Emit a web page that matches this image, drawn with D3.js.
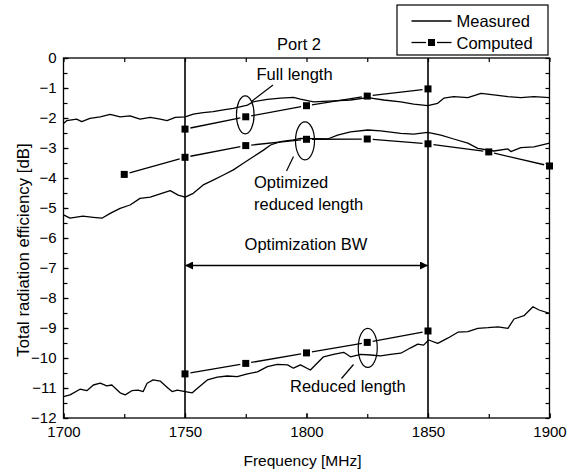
<!DOCTYPE html>
<html>
<head>
<meta charset="utf-8">
<script src="https://cdn.jsdelivr.net/npm/d3@7"></script>
<style>
  html, body { margin: 0; padding: 0; background: #fff; }
  svg { display: block; font-family: "Liberation Sans", Arial, sans-serif; }
</style>
</head>
<body>
<svg id="chart" width="574" height="472"></svg>
<script>
// ---------------- DATA ----------------
const xTicks = [1700, 1750, 1800, 1850, 1900];
const yTicks = [0, -1, -2, -3, -4, -5, -6, -7, -8, -9, -10, -11, -12];
const bandEdges = [1750, 1850];

// Measured curves [frequency MHz, efficiency dB]
const fullMeasured = [
  [1700,-2.18],[1701.3,-2.09],[1705.4,-2.04],[1707.5,-2.12],[1710.9,-2.01],[1715.1,-1.96],
  [1719.2,-1.88],[1723.3,-1.96],[1727.4,-1.93],[1731.5,-2.04],[1735.7,-1.98],[1739.8,-2.04],
  [1742.6,-2.09],[1746,-1.98],[1750.1,-1.96],[1753.4,-1.87],[1757.5,-1.82],[1761.6,-1.79],
  [1765.8,-1.73],[1769.9,-1.68],[1775.7,-1.57],[1778.1,-1.46],[1783.9,-1.38],[1789.3,-1.34],
  [1794.6,-1.31],[1797.5,-1.37],[1802.9,-1.46],[1811.1,-1.43],[1818.1,-1.40],[1825.2,-1.32],
  [1831.8,-1.40],[1838.8,-1.46],[1844.1,-1.54],[1849.9,-1.59],[1854.0,-1.51],[1856.5,-1.34],
  [1860.6,-1.29],[1866.4,-1.32],[1871.8,-1.18],[1877.1,-1.23],[1882.9,-1.29],[1888.2,-1.32],
  [1893.6,-1.29],[1900,-1.32]
];
const optMeasured = [
  [1700,-5.23],[1702.7,-5.34],[1708.0,-5.27],[1712.2,-5.31],[1715.8,-5.34],[1719.2,-5.18],
  [1723.3,-5.01],[1727.4,-4.90],[1731.5,-4.68],[1735.7,-4.64],[1739.8,-4.53],[1743.9,-4.42],
  [1747.2,-4.57],[1750.1,-4.64],[1753.4,-4.51],[1757.5,-4.23],[1761.6,-4.07],[1765.8,-3.90],
  [1769.9,-3.73],[1774.0,-3.51],[1778.1,-3.29],[1782.3,-3.07],[1785.2,-2.90],[1789.3,-2.79],
  [1794.6,-2.73],[1797.5,-2.68],[1808.7,-2.70],[1812.8,-2.57],[1818.1,-2.46],[1825.2,-2.40],
  [1830.5,-2.43],[1838.8,-2.51],[1844.1,-2.54],[1849.9,-2.48],[1855.3,-2.57],[1860.6,-2.70],
  [1866.4,-2.84],[1870.5,-3.01],[1877.1,-3.10],[1882.9,-3.03],[1884.1,-3.12],[1888.2,-2.99],
  [1893.6,-2.96],[1900,-2.84]
];
const redMeasured = [
  [1700,-11.29],[1702.7,-11.23],[1706.8,-11.04],[1709.6,-11.09],[1712.3,-10.90],[1715.1,-10.84],
  [1717.8,-10.93],[1719.9,-10.90],[1723.3,-11.16],[1725.4,-11.23],[1728.1,-11.09],[1730.7,-11.07],
  [1732.8,-11.12],[1734.4,-10.84],[1736.9,-10.73],[1739.8,-10.77],[1742.7,-10.98],[1744.7,-11.12],
  [1746.8,-11.07],[1750.1,-11.12],[1753.0,-11.16],[1755.5,-10.98],[1759.2,-10.73],[1763.3,-10.64],
  [1767.4,-10.60],[1771.5,-10.62],[1775.7,-10.53],[1779.8,-10.46],[1783.9,-10.29],[1788.0,-10.21],
  [1792.2,-10.23],[1794.6,-10.34],[1797.5,-10.23],[1801.6,-10.40],[1807.0,-9.96],[1811.1,-9.88],
  [1815.3,-9.81],[1818.1,-9.96],[1822.3,-9.88],[1826.4,-9.90],[1830.5,-9.93],[1834.6,-9.88],
  [1838.8,-9.84],[1842.9,-9.66],[1845.8,-9.54],[1848.2,-9.57],[1850.3,-9.40],[1854.0,-9.51],
  [1858.1,-9.34],[1862.3,-9.14],[1866.4,-9.12],[1870.5,-9.01],[1874.6,-8.99],[1878.8,-8.96],
  [1882.9,-9.01],[1885.4,-8.70],[1889.5,-8.59],[1893.2,-8.29],[1895.7,-8.40],[1900,-8.51]
];

// Computed curves
const fullComputed = [[1750,-2.37],[1775,-1.96],[1800,-1.59],[1825,-1.27],[1850,-1.03]];
const optComputed  = [[1725,-3.88],[1750,-3.31],[1775,-2.92],[1800,-2.71],[1825,-2.70],[1850,-2.86],[1875,-3.13],[1900,-3.60]];
const redComputed  = [[1750,-10.53],[1775,-10.18],[1800,-9.83],[1825,-9.48],[1850,-9.10]];

// ---------------- CHART ----------------
const svg = d3.select("#chart");
const x = d3.scaleLinear().domain([1700, 1900]).range([63.5, 549.5]);
const y = d3.scaleLinear().domain([-12, 0]).range([418, 58]);
const FS_TICK = 15, FS_ANN = 16.5;

const minorX = d3.range(1700, 1901, 25);
const minorY = d3.range(-12, 0.01, 0.5);

function styleAxis(g) {
  g.select(".domain").remove();
  g.selectAll("line").attr("stroke", "#000").attr("stroke-width", 1.2);
  g.selectAll("text").attr("fill", "#000").style("font-size", FS_TICK + "px")
    .style("font-family", "Liberation Sans, Arial, sans-serif");
}

// left axis
svg.append("g").attr("transform", "translate(63.5,0)")
  .call(d3.axisLeft(y).tickValues(yTicks).tickSize(-5).tickPadding(7).tickFormat(d3.format("d")))
  .call(styleAxis);
svg.append("g").attr("transform", "translate(63.5,0)")
  .call(d3.axisLeft(y).tickValues(minorY).tickSize(-4).tickFormat(""))
  .call(styleAxis);
// right axis
svg.append("g").attr("transform", "translate(549.5,0)")
  .call(d3.axisRight(y).tickValues(minorY).tickSize(-4).tickFormat(""))
  .call(styleAxis);
// bottom axis
svg.append("g").attr("transform", "translate(0,418)")
  .call(d3.axisBottom(x).tickValues(xTicks).tickSize(-5).tickPadding(8).tickFormat(d3.format("d")))
  .call(styleAxis);
svg.append("g").attr("transform", "translate(0,418)")
  .call(d3.axisBottom(x).tickValues(minorX).tickSize(-4).tickFormat(""))
  .call(styleAxis);
// top axis
svg.append("g").attr("transform", "translate(0,58)")
  .call(d3.axisTop(x).tickValues(minorX).tickSize(-4).tickFormat(""))
  .call(styleAxis);

// frame
svg.append("rect").attr("x", 63.5).attr("y", 58).attr("width", 486).attr("height", 360)
  .attr("fill", "none").attr("stroke", "#000").attr("stroke-width", 1.3);

// band edge vertical lines
svg.selectAll(".band").data(bandEdges).enter().append("line")
  .attr("x1", d => x(d)).attr("x2", d => x(d)).attr("y1", y(0)).attr("y2", y(-12))
  .attr("stroke", "#000").attr("stroke-width", 1.6);

// measured lines
const line = d3.line().x(d => x(d[0])).y(d => y(d[1]));
[fullMeasured, optMeasured, redMeasured].forEach(s => {
  svg.append("path").datum(s).attr("d", line).attr("fill", "none")
    .attr("stroke", "#000").attr("stroke-width", 1.3).attr("stroke-linejoin", "round");
});

// computed lines with gaps near markers
function drawComputed(s) {
  const gap = 5.5;
  for (let i = 0; i < s.length - 1; i++) {
    const x1 = x(s[i][0]), y1 = y(s[i][1]), x2 = x(s[i+1][0]), y2 = y(s[i+1][1]);
    const L = Math.hypot(x2 - x1, y2 - y1), ux = (x2 - x1) / L, uy = (y2 - y1) / L;
    svg.append("line")
      .attr("x1", x1 + ux * gap).attr("y1", y1 + uy * gap)
      .attr("x2", x2 - ux * gap).attr("y2", y2 - uy * gap)
      .attr("stroke", "#000").attr("stroke-width", 1.3);
  }
  svg.append("g").selectAll("rect").data(s).enter().append("rect")
    .attr("x", d => x(d[0]) - 3.5).attr("y", d => y(d[1]) - 3.5)
    .attr("width", 7).attr("height", 7).attr("fill", "#000");
}
[fullComputed, optComputed, redComputed].forEach(drawComputed);

// ---------------- ANNOTATIONS ----------------
const ann = svg.append("g").style("font-size", FS_ANN + "px").attr("fill", "#000");

ann.append("text").attr("x", 299).attr("y", 50).attr("text-anchor", "middle").text("Port 2");

// Full length
ann.append("ellipse").attr("cx", x(1775) - 0.5).attr("cy", y(-1.96) - 2).attr("rx", 8.8).attr("ry", 19)
  .attr("fill", "none").attr("stroke", "#000").attr("stroke-width", 1.2);
ann.append("line").attr("x1", 251.5).attr("y1", 101.5).attr("x2", 273).attr("y2", 85)
  .attr("stroke", "#000").attr("stroke-width", 1.2);
ann.append("text").attr("x", 256.5).attr("y", 80).text("Full length");

// Optimized reduced length
ann.append("ellipse").attr("cx", x(1800) - 1.5).attr("cy", y(-2.71) + 1.5).attr("rx", 9.5).attr("ry", 19)
  .attr("fill", "none").attr("stroke", "#000").attr("stroke-width", 1.2);
ann.append("line").attr("x1", 293.5).attr("y1", 156.5).attr("x2", 286.5).attr("y2", 171)
  .attr("stroke", "#000").attr("stroke-width", 1.2);
ann.append("text").attr("x", 254).attr("y", 188).text("Optimized");
ann.append("text").attr("x", 254).attr("y", 210).text("reduced length");

// Reduced length
ann.append("ellipse").attr("cx", x(1825) + 0.5).attr("cy", y(-9.48) + 5.5).attr("rx", 9.5).attr("ry", 19.5)
  .attr("fill", "none").attr("stroke", "#000").attr("stroke-width", 1.2);
ann.append("line").attr("x1", 353.5).attr("y1", 364.5).attr("x2", 341.5).attr("y2", 378.5)
  .attr("stroke", "#000").attr("stroke-width", 1.2);
ann.append("text").attr("x", 290).attr("y", 392).text("Reduced length");

// Optimization BW arrow
const defs = svg.append("defs");
defs.append("marker").attr("id", "ah").attr("viewBox", "0 0 10 10").attr("refX", 10).attr("refY", 5)
  .attr("markerWidth", 9).attr("markerHeight", 8).attr("markerUnits", "userSpaceOnUse").attr("orient", "auto-start-reverse")
  .append("path").attr("d", "M0,0 L10,5 L0,10 Z").attr("fill", "#000");
const arrowY = 265.5;
ann.append("line").attr("x1", x(1750)).attr("x2", x(1850)).attr("y1", arrowY).attr("y2", arrowY)
  .attr("stroke", "#000").attr("stroke-width", 1.3)
  .attr("marker-start", "url(#ah)").attr("marker-end", "url(#ah)");
ann.append("text").attr("x", 306).attr("y", 250).attr("text-anchor", "middle").text("Optimization BW");

// Axis titles
svg.append("text").attr("x", 302.5).attr("y", 466).attr("text-anchor", "middle")
  .style("font-size", "15.5px").text("Frequency [MHz]");
svg.append("text").attr("transform", "translate(29,250) rotate(-90)").attr("text-anchor", "middle")
  .style("font-size", "16.8px").text("Total radiation efficiency [dB]");

// ---------------- LEGEND ----------------
const lg = svg.append("g");
lg.append("rect").attr("x", 397).attr("y", 5).attr("width", 151).attr("height", 50)
  .attr("fill", "#fff").attr("stroke", "#000").attr("stroke-width", 1.2);
lg.append("line").attr("x1", 411.5).attr("x2", 451.5).attr("y1", 21).attr("y2", 21)
  .attr("stroke", "#000").attr("stroke-width", 1.3);
lg.append("text").attr("x", 456.5).attr("y", 27).style("font-size", FS_ANN + "px").text("Measured");
lg.append("line").attr("x1", 411.5).attr("x2", 426).attr("y1", 42.5).attr("y2", 42.5)
  .attr("stroke", "#000").attr("stroke-width", 1.3);
lg.append("line").attr("x1", 437).attr("x2", 451.5).attr("y1", 42.5).attr("y2", 42.5)
  .attr("stroke", "#000").attr("stroke-width", 1.3);
lg.append("rect").attr("x", 428).attr("y", 39).attr("width", 7).attr("height", 7).attr("fill", "#000");
lg.append("text").attr("x", 456.5).attr("y", 48.5).style("font-size", FS_ANN + "px").text("Computed");
</script>
</body>
</html>
